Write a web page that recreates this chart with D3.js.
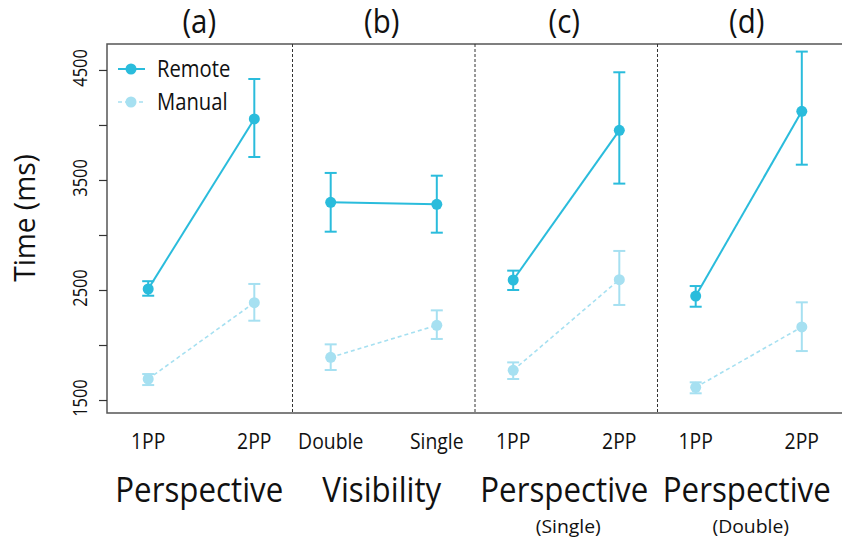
<!DOCTYPE html>
<html>
  <head>
    <meta charset="utf-8">
    <title>Time by condition</title>
    <script src="https://d3js.org/d3.v7.min.js"></script>
    <style>
      body { margin: 0; background: #fff; }
      text { font-family: "Open Sans", sans-serif; fill: #111; }
    </style>
  </head>
  <body>
    <script>
    var w = 842, h = 541;

    // panels and their two levels
    var panels = ["(a)", "(b)", "(c)", "(d)"];
    var factors = ["Perspective", "Visibility", "Perspective", "Perspective"];
    var subtitles = ["", "", "(Single)", "(Double)"];
    var levels = [["1PP", "2PP"], ["Double", "Single"], ["1PP", "2PP"], ["1PP", "2PP"]];

    var series = ["Remote", "Manual"];
    var colors = ["#2abcdc", "#a6e0f1"];

    // means and error bar ends (ms), per panel, per level
    var remoteMean = [[2509, 4055], [3297, 3279], [2591, 3951], [2445, 4124]];
    var remoteLow  = [[2448, 3709], [3030, 3021], [2500, 3467], [2348, 3639]];
    var remoteHigh = [[2580, 4418], [3564, 3539], [2676, 4479], [2536, 4667]];

    var manualMean = [[1691, 2385], [1888, 2179], [1770, 2594], [1615, 2164]];
    var manualLow  = [[1636, 2221], [1773, 2055], [1691, 2364], [1561, 1945]];
    var manualHigh = [[1736, 2555], [2006, 2315], [1842, 2855], [1661, 2388]];

    var yTicks = [1500, 2000, 2500, 3000, 3500, 4000, 4500];
    var yLabels = [1500, 2500, 3500, 4500];

    var pLeft = 107, pRight = 842, pTop = 44, pBottom = 413;

    var svg = d3.select("body").append("svg")
      .attr("width", w).attr("height", h);

    var y = d3.scaleLinear().domain([1382, 4736]).range([pBottom, pTop]);

    var panelX = d3.scaleBand().domain(d3.range(4)).range([110, 840]);
    var inner = d3.scalePoint().domain([0, 1]).range([0, panelX.bandwidth()]).padding(0.36);

    function px(p, i){ return panelX(p) + inner(i); }

    // text squeezed a little to mimic the narrow original face
    function label(x, yy, txt, size, sx, anchor, rot){
      return svg.append("text")
        .attr("transform", "translate(" + x + "," + yy + ")" + (rot ? " rotate(" + rot + ")" : "") + " scale(" + sx + ",1)")
        .attr("font-size", size)
        .attr("text-anchor", anchor || "middle")
        .text(txt);
    }

    // frame
    svg.append("path")
      .attr("d", "M" + pRight + "," + pTop + "H" + pLeft + "V" + pBottom + "H" + pRight)
      .attr("fill", "none").attr("stroke", "#555").attr("stroke-width", 1.5);

    // y axis
    var yAxis = d3.axisLeft(y).tickValues(yTicks).tickSize(8).tickFormat("");
    var ga = svg.append("g").attr("transform", "translate(" + pLeft + ",0)").call(yAxis);
    ga.select(".domain").remove();
    ga.selectAll("line").attr("stroke", "#333").attr("stroke-width", 1.2);
    yLabels.forEach(function(v){
      label(87, y(v) - 2, v, 20, 0.82, "middle", -90);
    });
    label(35, 218, "Time (ms)", 29, 0.97, "middle", -90);

    // dividers
    svg.selectAll("line.div")
      .data([1, 2, 3])
      .enter().append("line")
      .attr("class", "div")
      .attr("x1", function(d){ return panelX(d); })
      .attr("x2", function(d){ return panelX(d); })
      .attr("y1", pTop).attr("y2", pBottom)
      .attr("stroke", "#333").attr("stroke-width", 1)
      .attr("stroke-dasharray", "3,2");

    // panel texts
    panels.forEach(function(p, i){
      var cx = panelX(i) + panelX.bandwidth() / 2;
      label(cx - 2, 33, p, 32, 0.92);
      label(cx - 2, 502, factors[i], 34, 0.92);
      if (subtitles[i]) label(cx + 2, 533, subtitles[i], 19, 1.02);
      levels[i].forEach(function(l, j){
        label(px(i, j), 449, l, 22, 0.88);
      });
    });

    // series
    var sets = [
      {mean: remoteMean, low: remoteLow, high: remoteHigh, color: colors[0], dash: null, lw: 2},
      {mean: manualMean, low: manualLow, high: manualHigh, color: colors[1], dash: "4,3", lw: 1.6}
    ];

    sets.forEach(function(s){
      var g = svg.append("g");
      d3.range(4).forEach(function(p){
        g.append("line")
          .attr("x1", px(p, 0)).attr("y1", y(s.mean[p][0]))
          .attr("x2", px(p, 1)).attr("y2", y(s.mean[p][1]))
          .attr("stroke", s.color).attr("stroke-width", s.lw)
          .attr("stroke-dasharray", s.dash);
        [0, 1].forEach(function(j){
          var x = px(p, j);
          g.append("line")
            .attr("x1", x).attr("x2", x)
            .attr("y1", y(s.low[p][j])).attr("y2", y(s.high[p][j]))
            .attr("stroke", s.color).attr("stroke-width", 2);
          [s.low[p][j], s.high[p][j]].forEach(function(v){
            g.append("line")
              .attr("x1", x - 6).attr("x2", x + 6)
              .attr("y1", y(v)).attr("y2", y(v))
              .attr("stroke", s.color).attr("stroke-width", 2);
          });
          g.append("circle")
            .attr("cx", x).attr("cy", y(s.mean[p][j])).attr("r", 5.5)
            .attr("fill", s.color);
        });
      });
    });

    // legend
    var leg = svg.append("g");
    series.forEach(function(name, i){
      var ly = 69 + i * 33;
      leg.append("line")
        .attr("x1", 118).attr("x2", 145).attr("y1", ly).attr("y2", ly)
        .attr("stroke", colors[i]).attr("stroke-width", i ? 1.6 : 2)
        .attr("stroke-dasharray", i ? "4,3" : null);
      leg.append("circle").attr("cx", 131).attr("cy", ly).attr("r", 5.5).attr("fill", colors[i]);
      label(157, ly + 8, name, 23, 0.88, "start");
    });
    </script>
  </body>
</html>
